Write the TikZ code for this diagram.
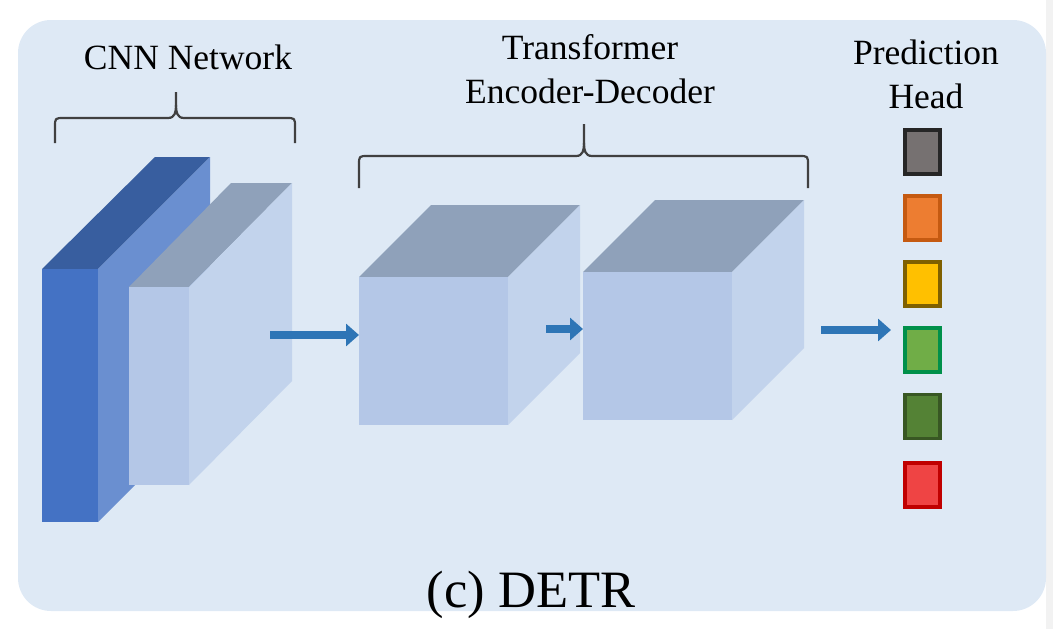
\documentclass[tikz,border=0pt]{standalone}
\usepackage{fontspec}
\setmainfont{Liberation Serif}
\usepackage{xcolor}
\usetikzlibrary{calc, positioning, arrows.meta}
\definecolor{bgblue}{HTML}{DEE9F5}
\definecolor{cnnfront}{HTML}{4472C4}
\definecolor{cnntop}{HTML}{385E9F}
\definecolor{cnnside}{HTML}{6A8FD0}
\definecolor{paleFront}{HTML}{B4C7E7}
\definecolor{paleTop}{HTML}{8FA1BA}
\definecolor{paleSide}{HTML}{C2D3EC}
\definecolor{flowblue}{HTML}{2E75B6}
\definecolor{braceGray}{HTML}{404040}
\definecolor{boxGray}{HTML}{767171}
\definecolor{boxGrayLine}{HTML}{262626}
\definecolor{boxOrange}{HTML}{ED7D31}
\definecolor{boxOrangeLine}{HTML}{C55A11}
\definecolor{boxYellow}{HTML}{FFC000}
\definecolor{boxYellowLine}{HTML}{7F6000}
\definecolor{boxGreen}{HTML}{70AD47}
\definecolor{boxGreenLine}{HTML}{00904A}
\definecolor{boxDarkGreen}{HTML}{548235}
\definecolor{boxDarkGreenLine}{HTML}{385723}
\definecolor{boxRed}{HTML}{EF4444}
\definecolor{boxRedLine}{HTML}{C00000}
\tikzset{
    headtext/.style={font=\fontsize{35.5}{44}\selectfont, align=center, inner sep=0pt, anchor=base},
    titletext/.style={font=\fontsize{52.5}{60}\selectfont, inner sep=0pt, anchor=base},
    bracket/.style={draw=braceGray, line width=2.2pt, line join=round},
    flow/.style={draw=flowblue, line width=7.5pt, -{Triangle[length=13pt, width=22pt]}},
    headbox/.style={rectangle, line width=3.5pt, minimum width=35pt, minimum height=44pt, inner sep=0pt}
}

\begin{document}
\begin{tikzpicture}[x=1pt, y=-1pt]
    \useasboundingbox (0,0) rectangle (1053,629);
    \fill[gray!10] (1046,0) rectangle (1053,629);
    \fill[bgblue, rounded corners=33pt] (18,20) rectangle (1046,611);

    % CNN layers
    \fill[cnntop] (42,269) -- (98,269) -- (210,157) -- (155,157) -- cycle;
    \fill[cnnside] (98,269) -- (210,157) -- (210,410) -- (98,522) -- cycle;
    \fill[cnnfront] (42,269) rectangle (98,522);
    \fill[paleTop] (129,287) -- (189,287) -- (292,183) -- (231,183) -- cycle;
    \fill[paleSide] (189,287) -- (292,183) -- (292,381) -- (189,485) -- cycle;
    \fill[paleFront] (129,287) rectangle (189,485);

    % encoder / decoder blocks
    \fill[paleTop] (359,277) -- (508,277) -- (580,205) -- (431,205) -- cycle;
    \fill[paleSide] (508,277) -- (580,205) -- (580,353) -- (508,425) -- cycle;
    \fill[paleFront] (359,277) rectangle (508,425);
    \fill[paleTop] (583,272) -- (732,272) -- (804,200) -- (655,200) -- cycle;
    \fill[paleSide] (732,272) -- (804,200) -- (804,348) -- (732,420) -- cycle;
    \fill[paleFront] (583,272) rectangle (732,420);

    % braces
    \draw[bracket] (55,143) -- (55,127) .. controls (55,118) .. (64,118) -- (168,118)
        .. controls (175,118) and (176,112) .. (176,105) -- (176,92);
    \draw[bracket] (176,105) .. controls (176,112) and (177,118) .. (184,118) -- (286,118)
        .. controls (295,118) .. (295,127) -- (295,143);
    \draw[bracket] (359,188) -- (359,165) .. controls (359,156) .. (368,156) -- (576,156)
        .. controls (583,156) and (584,150) .. (584,143) -- (584,124);
    \draw[bracket] (584,143) .. controls (584,150) and (585,156) .. (592,156) -- (799,156)
        .. controls (808,156) .. (808,165) -- (808,188);

    % labels
    \node[headtext] (cnnlbl) at (188,69) {CNN Network};
    \node[headtext] (trflbl) at (590,103) {Transformer\\Encoder-Decoder};
    \node[headtext] (predlbl) at (926,108) {Prediction\\Head};
    \node[titletext] (title) at (531,607) {(c) DETR};

    % prediction head boxes
    \node[headbox, fill=boxGray, draw=boxGrayLine] (h1) at (922.5,152) {};
    \node[headbox, fill=boxOrange, draw=boxOrangeLine] (h2) at (922.5,218) {};
    \node[headbox, fill=boxYellow, draw=boxYellowLine] (h3) at (922.5,284) {};
    \node[headbox, fill=boxGreen, draw=boxGreenLine] (h4) at (922.5,350) {};
    \node[headbox, fill=boxDarkGreen, draw=boxDarkGreenLine] (h5) at (922.5,416.5) {};
    \node[headbox, fill=boxRed, draw=boxRedLine] (h6) at (922.5,485) {};

    % arrows
    \coordinate (cnnout) at (270,335);
    \coordinate (encin) at (359,335);
    \coordinate (encout) at (546,329);
    \coordinate (decin) at (583,329);
    \coordinate (decout) at (821,330);
    \coordinate (headin) at (891,330);
    \draw[flow] (cnnout) -- (encin);
    \draw[flow] (encout) -- (decin);
    \draw[flow] (decout) -- (headin);
\end{tikzpicture}
\end{document}
